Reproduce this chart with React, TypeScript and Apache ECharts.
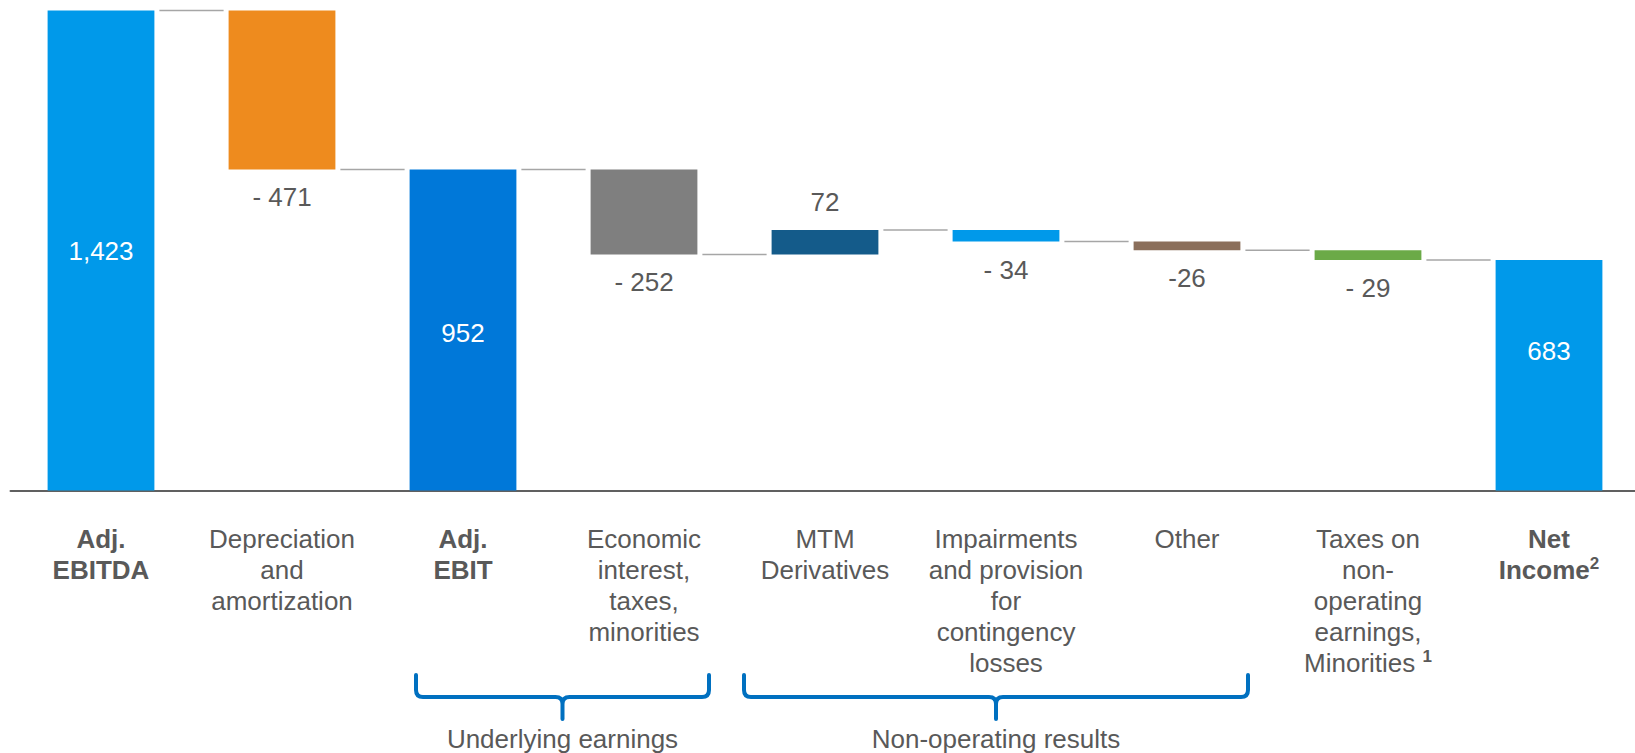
import React, { useEffect, useRef } from "react";
import * as echarts from "echarts";

const categories = [
  "Adj. EBITDA",
  "Depreciation and amortization",
  "Adj. EBIT",
  "Economic interest, taxes, minorities",
  "MTM Derivatives",
  "Impairments and provision for contingency losses",
  "Other",
  "Taxes on non-operating earnings, Minorities",
  "Net Income",
];

const categoryLabels = [
  "{b|Adj.}\n{b|EBITDA}",
  "Depreciation\nand\namortization",
  "{b|Adj.}\n{b|EBIT}",
  "Economic\ninterest,\ntaxes,\nminorities",
  "MTM\nDerivatives",
  "Impairments\nand provision\nfor\ncontingency\nlosses",
  "Other",
  "Taxes on\nnon-\noperating\nearnings,\nMinorities {sup|1}",
  "{b|Net}\n{b|Income}{bsup|2}",
];

const values = [1423, -471, 952, -252, 72, -34, -26, -29, 683];
const kinds = ["total", "delta", "total", "delta", "delta", "delta", "delta", "delta", "total"];
const valueLabels = ["1,423", "- 471", "952", "- 252", "72", "- 34", "-26", "- 29", "683"];
const barColors = [
  "#0099EA",
  "#EE8B1E",
  "#0078D9",
  "#7F7F7F",
  "#145B8A",
  "#0099EA",
  "#8B6F5B",
  "#6BAA47",
  "#0099EA",
];

const groupNames = ["Underlying earnings", "Non-operating results"];
const groupSpans = [
  [2, 3],
  [4, 6],
];

const FONT = "'Liberation Sans', Arial, sans-serif";
const TEXT = "#595959";
const FS = 26;

export default function App() {
  const ref = useRef<HTMLDivElement>(null);

  useEffect(() => {
    if (!ref.current) return;
    const chart = echarts.init(ref.current, undefined, { renderer: "svg" });

    const bases: number[] = [];
    const heights: number[] = [];
    const levels: number[] = [];
    let running = 0;
    values.forEach((v, i) => {
      if (kinds[i] === "total") {
        bases.push(0);
        heights.push(v);
        running = v;
      } else {
        if (v < 0) {
          bases.push(running + v);
          heights.push(-v);
        } else {
          bases.push(running);
          heights.push(v);
        }
        running += v;
      }
      levels.push(running);
    });

    const barPct = 0.59;

    const mainData = heights.map((h, i) => {
      const total = kinds[i] === "total";
      return {
        value: h,
        itemStyle: { color: barColors[i] },
        label: {
          show: true,
          formatter: valueLabels[i],
          position: total ? "inside" : values[i] < 0 ? "bottom" : "top",
          distance: 15,
          color: total ? "#FFFFFF" : TEXT,
          fontSize: FS,
          fontFamily: FONT,
          offset: i === 8 ? [0, -24] : i === 2 ? [0, 3] : [0, 0],
        },
      };
    });

    const connectorData = levels.slice(0, levels.length - 1).map((l, i) => [i, l]);

    chart.setOption({
      animation: false,
      grid: { left: 10.5, top: 10.5, width: 1629, height: 480, containLabel: false },
      xAxis: {
        type: "category",
        data: categories,
        axisLine: { show: true, lineStyle: { color: "#606060", width: 2 } },
        axisTick: { show: false },
        axisLabel: {
          interval: 0,
          margin: 33,
          fontSize: FS,
          lineHeight: 31,
          color: TEXT,
          fontFamily: FONT,
          formatter: (_v: string, idx: number) => categoryLabels[idx],
          rich: {
            b: { fontWeight: "bold", fontSize: FS, lineHeight: 31, color: TEXT, fontFamily: FONT },
            sup: {
              fontSize: 17,
              lineHeight: 20,
              verticalAlign: "top",
              fontWeight: "bold",
              color: TEXT,
              fontFamily: FONT,
            },
            bsup: {
              fontSize: 17,
              lineHeight: 20,
              verticalAlign: "top",
              fontWeight: "bold",
              color: TEXT,
              fontFamily: FONT,
            },
          },
        },
      },
      yAxis: { type: "value", min: 0, max: 1423, show: false },
      series: [
        {
          type: "bar",
          stack: "w",
          barWidth: barPct * 100 + "%",
          silent: true,
          itemStyle: { color: "transparent" },
          data: bases,
        },
        {
          type: "bar",
          stack: "w",
          barWidth: barPct * 100 + "%",
          data: mainData,
        },
        {
          type: "custom",
          data: connectorData,
          encode: { x: 0, y: 1 },
          renderItem: (params: any, api: any) => {
            const p = api.coord([api.value(0), api.value(1)]);
            const w = api.size([1, 0])[0];
            const half = (w * barPct) / 2;
            return {
              type: "line",
              shape: { x1: p[0] + half + 5, y1: p[1], x2: p[0] + w - half - 5, y2: p[1] },
              style: { stroke: "#A6A6A6", lineWidth: 1.5 },
            };
          },
        },
      ],
    });

    // braces
    const cx = (i: number) => chart.convertToPixel({ xAxisIndex: 0 }, i) as number;
    const yt = 675;
    const yh = 697;
    const yb = 719;
    const r = 7;
    const offsets = [
      [-47, 65],
      [-81, 61],
    ];
    const graphics: any[] = [];
    groupSpans.forEach((span, g) => {
      const x1 = cx(span[0]) + offsets[g][0];
      const x2 = cx(span[1]) + offsets[g][1];
      const xc = (x1 + x2) / 2;
      const d =
        `M ${x1} ${yt} L ${x1} ${yh - r} Q ${x1} ${yh} ${x1 + r} ${yh} L ${xc - r} ${yh} ` +
        `Q ${xc} ${yh} ${xc} ${yh + r} L ${xc} ${yb} M ${xc} ${yh + r} Q ${xc} ${yh} ${xc + r} ${yh} ` +
        `L ${x2 - r} ${yh} Q ${x2} ${yh} ${x2} ${yh - r} L ${x2} ${yt}`;
      const name = "brace" + g;
      echarts.graphic.registerShape(name, echarts.graphic.extendPath(d, {}) as any);
      graphics.push({
        type: name,
        x: 0,
        y: 0,
        silent: true,
        style: { fill: "none", stroke: "#0070C0", lineWidth: 4, lineCap: "round", lineJoin: "round" },
      });
      graphics.push({
        type: "text",
        x: xc,
        y: 739,
        silent: true,
        style: {
          text: groupNames[g],
          fill: TEXT,
          fontSize: FS,
          fontFamily: FONT,
          textAlign: "center",
          textVerticalAlign: "middle",
        },
      });
    });
    chart.setOption({ graphic: graphics });

    return () => chart.dispose();
  }, []);

  return (
    <div
      style={{
        position: "fixed",
        left: 0,
        top: 0,
        width: 1635,
        height: 753,
        overflow: "hidden",
        background: "#fff",
      }}
    >
      <div ref={ref} style={{ width: 1650, height: 753 }} />
    </div>
  );
}
